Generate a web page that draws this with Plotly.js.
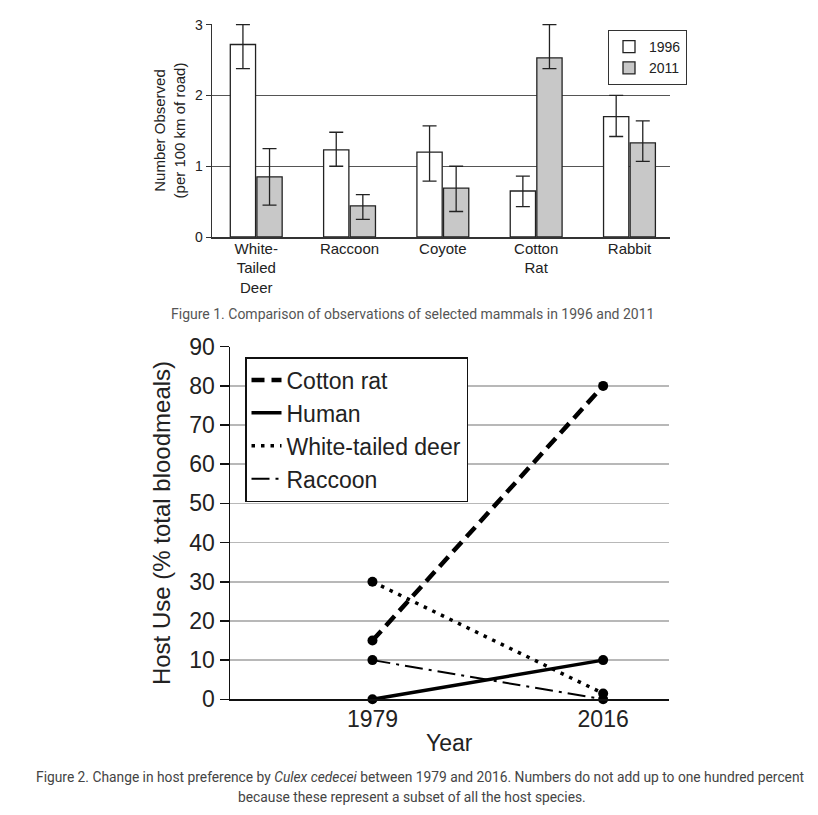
<!DOCTYPE html>
<html>
<head>
<meta charset="utf-8">
<script src="https://cdn.plot.ly/plotly-3.0.1.min.js"></script>
<style>
  html, body { margin: 0; padding: 0; background: #ffffff; }
  #chart { width: 818px; height: 815px; }
</style>
</head>
<body>
<div id="chart"></div>
<script>
// ---------- Figure 1 data ----------
const categories = ["White-Tailed Deer", "Raccoon", "Coyote", "Cotton Rat", "Rabbit"];
const categoryLabels = ["White-<br>Tailed<br>Deer", "Raccoon", "Coyote", "Cotton<br>Rat", "Rabbit"];
const obs1996 = [2.72, 1.23, 1.20, 0.65, 1.70];
const obs1996Upper = [3.00, 1.48, 1.57, 0.86, 2.00];
const obs1996Lower = [2.38, 1.00, 0.79, 0.43, 1.42];
const obs2011 = [0.85, 0.44, 0.69, 2.53, 1.33];
const obs2011Upper = [1.25, 0.60, 1.00, 3.00, 1.64];
const obs2011Lower = [0.45, 0.25, 0.36, 2.38, 1.07];
const fig1Ticks = [0, 1, 2, 3];

// ---------- Figure 2 data ----------
const years = [1979, 2016];
const cottonRat = [15, 80];
const human = [0, 10];
const whiteTailedDeer = [30, 1.5];
const raccoon = [10, 0];
const fig2Ticks = [0, 10, 20, 30, 40, 50, 60, 70, 80, 90];

const plus = (u, v) => u.map((x, i) => x - v[i]);
const minus = (v, l) => v.map((x, i) => x - l[i]);

const W = 818, H = 815;
const px = v => v / W;
const py = v => 1 - v / H;

const textFont = "Liberation Sans, Arial, Helvetica, sans-serif";
const ink = "#222222";

const errStyle = { type: "data", symmetric: false, color: ink, thickness: 1.3, width: 7 };

const traces = [
  {
    type: "bar", name: "1996", x: categories, y: obs1996,
    xaxis: "x", yaxis: "y", legend: "legend",
    marker: { color: "#ffffff", line: { color: ink, width: 1.3 } },
    error_y: Object.assign({}, errStyle, { array: plus(obs1996Upper, obs1996), arrayminus: minus(obs1996, obs1996Lower) }),
    hoverinfo: "skip"
  },
  {
    type: "bar", name: "2011", x: categories, y: obs2011,
    xaxis: "x", yaxis: "y", legend: "legend",
    marker: { color: "#c8c8c8", line: { color: ink, width: 1.3 } },
    error_y: Object.assign({}, errStyle, { array: plus(obs2011Upper, obs2011), arrayminus: minus(obs2011, obs2011Lower) }),
    hoverinfo: "skip"
  }
];

const series = [
  { name: "Cotton rat", y: cottonRat, dash: "13px,7px", width: 4.5 },
  { name: "Human", y: human, dash: "solid", width: 3.5 },
  { name: "White-tailed deer", y: whiteTailedDeer, dash: "3.5px,6px", width: 3.5 },
  { name: "Raccoon", y: raccoon, dash: "18px,6px,3px,6px", width: 2 }
];

series.forEach(s => {
  traces.push({
    type: "scatter", mode: "lines", name: s.name, x: years, y: s.y,
    xaxis: "x2", yaxis: "y2", legend: "legend2",
    line: { color: "#000000", width: s.width, dash: s.dash },
    hoverinfo: "skip", cliponaxis: false
  });
});
series.forEach(s => {
  traces.push({
    type: "scatter", mode: "markers", name: s.name, x: years, y: s.y,
    xaxis: "x2", yaxis: "y2", showlegend: false,
    marker: { color: "#000000", size: 10 },
    hoverinfo: "skip", cliponaxis: false
  });
});

const layout = {
  width: W, height: H,
  margin: { l: 0, r: 0, t: 0, b: 0 },
  paper_bgcolor: "#ffffff", plot_bgcolor: "#ffffff",
  font: { family: textFont, color: ink },
  showlegend: true,
  barmode: "group",
  bargap: 0.43,
  bargroupgap: 0.05,
  xaxis: {
    domain: [px(212), px(669.6)], anchor: "y",
    type: "category", range: [-0.474, 4.43],
    tickvals: categories, ticktext: categoryLabels,
    tickfont: { size: 15, color: ink }, ticklabelstandoff: -3,
    showline: true, linecolor: "#333333", linewidth: 1.5,
    ticks: "", showgrid: false, zeroline: false, fixedrange: true
  },
  yaxis: {
    domain: [py(237), py(24)], anchor: "x",
    range: [0, 3.01], tickvals: fig1Ticks,
    tickfont: { size: 14, color: ink },
    ticks: "outside", ticklen: 5, tickwidth: 1, tickcolor: "#333333",
    showline: true, linecolor: "#333333", linewidth: 1.3,
    showgrid: true, gridcolor: "#555555", gridwidth: 1.3, zeroline: false,
    title: { text: "Number Observed<br>(per 100 km of road)", font: { size: 15, color: ink }, standoff: 6 },
    fixedrange: true
  },
  xaxis2: {
    domain: [px(230), px(668.6)], anchor: "y2",
    type: "linear", range: [1956.15, 2026.5],
    tickvals: years, ticktext: years.map(String),
    tickfont: { size: 23, color: ink }, ticklabelstandoff: -2,
    showline: true, linecolor: "#111111", linewidth: 2,
    ticks: "", showgrid: false, zeroline: false,
    title: { text: "Year", font: { size: 23, color: ink }, standoff: 4 },
    fixedrange: true
  },
  yaxis2: {
    domain: [py(699.3), py(346.7)], anchor: "x2",
    range: [0, 90], tickvals: fig2Ticks,
    tickfont: { size: 23, color: ink },
    ticks: "outside", ticklen: 9, tickwidth: 1.5, tickcolor: "#111111",
    showline: true, linecolor: "#111111", linewidth: 1.5,
    showgrid: true, gridcolor: "#b8b8b8", gridwidth: 1.5, zeroline: false,
    title: { text: "Host Use (% total bloodmeals)", font: { size: 24, color: ink }, standoff: 12 },
    fixedrange: true
  },
  legend: {
    x: px(608), y: py(30), xanchor: "left", yanchor: "top",
    bgcolor: "#ffffff", bordercolor: "#333333", borderwidth: 1,
    font: { size: 14, color: ink }, tracegroupgap: 0, itemwidth: 30,
    traceorder: "normal"
  },
  legend2: {
    x: px(245), y: py(357), xanchor: "left", yanchor: "top",
    bgcolor: "#ffffff", bordercolor: "#111111", borderwidth: 1.5,
    font: { size: 23, color: ink }, tracegroupgap: 0, itemwidth: 30,
    traceorder: "normal"
  },
  annotations: [
    {
      text: "Figure 1. Comparison of observations of selected mammals in 1996 and 2011",
      xref: "paper", yref: "paper", x: px(412), y: py(314), xanchor: "center", yanchor: "middle",
      showarrow: false, font: { family: "Roboto, sans-serif", size: 14, color: "#555555" }
    },
    {
      text: "Figure 2. Change in host preference by <i>Culex cedecei</i> between 1979 and 2016. Numbers do not add up to one hundred percent",
      xref: "paper", yref: "paper", x: px(420), y: py(777), xanchor: "center", yanchor: "middle",
      showarrow: false, font: { family: "Roboto, sans-serif", size: 13.8, color: "#444444" }
    },
    {
      text: "because these represent a subset of all the host species.",
      xref: "paper", yref: "paper", x: px(412), y: py(797), xanchor: "center", yanchor: "middle",
      showarrow: false, font: { family: "Roboto, sans-serif", size: 13.8, color: "#444444" }
    }
  ]
};

Plotly.newPlot("chart", traces, layout, { displayModeBar: false, staticPlot: true });
</script>
</body>
</html>
